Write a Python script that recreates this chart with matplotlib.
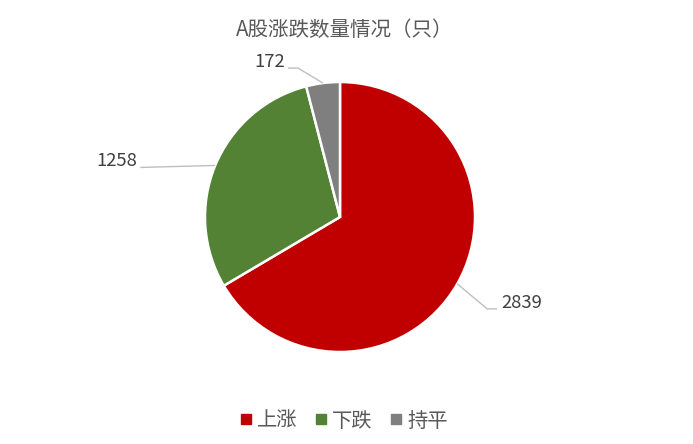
import numpy as np
import matplotlib
matplotlib.use("Agg")
import matplotlib.pyplot as plt
from matplotlib.lines import Line2D

plt.rcParams["font.family"] = ["Noto Sans CJK SC", "DejaVu Sans"]

# ── data ──────────────────────────────────────────────────────────────────────
categories = ["上涨", "下跌", "持平"]
counts = [2839, 1258, 172]
colors = ["#C00000", "#548235", "#7F7F7F"]
title = "A股涨跌数量情况（只）"

# ── layout (pixel units, y up) ────────────────────────────────────────────────
W, H = 693, 444
cx, cy, r = 340, H - 217, 135
# leader line shape: (elbow dx, elbow dy, horizontal run) per wedge
leader = {
    0: (30, -25, 10),
    1: (-75, -2, 0),
    2: (-25, 15, -10),
}

fig = plt.figure(figsize=(W / 100, H / 100), dpi=100)
ax = fig.add_axes([0, 0, 1, 1])

wedges, _ = ax.pie(counts, colors=colors, startangle=90, counterclock=False,
                   center=(cx, cy), radius=r, frame=True,
                   wedgeprops=dict(edgecolor="white", linewidth=1.8))
ax.set_xlim(0, W)
ax.set_ylim(0, H)
ax.axis("off")

for i, w in enumerate(wedges):
    ang = np.deg2rad((w.theta1 + w.theta2) / 2)
    x0, y0 = cx + r * np.cos(ang), cy + r * np.sin(ang)
    dx, dy, run = leader[i]
    x1, y1 = x0 + dx, y0 + dy
    x2 = x1 + run
    ax.plot([x0, x1, x2], [y0, y1, y1], color="#BFBFBF", lw=1.0,
            solid_capstyle="butt")
    ha, tx = ("left", x2 + 4) if x2 >= x0 else ("right", x2 - 3)
    ax.text(tx, y1 + 1, str(counts[i]), ha=ha, va="baseline",
            fontsize=13.3, color="#404040")

ax.text(345, H - 30, title, ha="center", va="center", fontsize=14.8,
        color="#595959")

handles = [Line2D([0], [0], marker="s", ls="none", markersize=6.5,
                  markerfacecolor=c, markeredgecolor=c, label=l)
           for c, l in zip(colors, categories)]
fig.legend(handles=handles, loc="center", bbox_to_anchor=(344 / W, 1 - 421 / H),
           ncol=3, frameon=False, fontsize=14.6, handletextpad=0.25,
           columnspacing=0.85, labelcolor="#595959", handlelength=0.6)

fig.savefig("out.png", dpi=100, facecolor="white")
